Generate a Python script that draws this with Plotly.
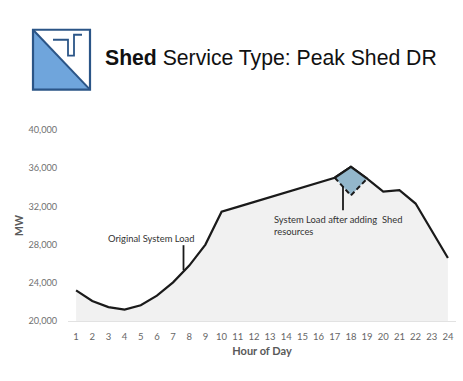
import plotly.graph_objects as go

W, H = 463, 381
L, R, T, B = 68, 456, 129.5, 321

hours = list(range(1, 25))
system_load = [23200, 22100, 21450, 21200, 21650, 22650, 24050, 25800, 28000, 31450,
               31950, 32450, 32950, 33450, 33950, 34450, 35000, 36150, 34900, 33550,
               33700, 32300, 29400, 26600]
shed_hours = [17, 18, 19]
shed_load = [35000, 33150, 34900]
tick_vals = [20000, 24000, 28000, 32000, 36000, 40000]
hour_labels = [str(h) for h in hours]
title_bold = "Shed"
title_rest = " Service Type: Peak Shed DR"
label_original = "Original System Load"
label_after = "System Load after adding  Shed<br>resources"

def px(x):
    return (x - L) / (R - L)

def py(y):
    return (B - y) / (B - T)

def pixel_shape(kind, x0, y0, x1, y1, **kw):
    return dict(type=kind, xref="paper", yref="paper", x0=px(x0), y0=py(y0), x1=px(x1), y1=py(y1), **kw)

def pixel_path(points, **kw):
    d = "M" + " L".join(f"{px(x)},{py(y)}" for x, y in points)
    return dict(type="path", xref="paper", yref="paper", path=d, **kw)

fig = go.Figure()
fig.add_trace(go.Scatter(x=hours, y=system_load, mode="lines", fill="tozeroy",
                         fillcolor="#f1f1f1", line=dict(color="#1a1a1a", width=2.2),
                         showlegend=False, hoverinfo="skip"))
fig.add_trace(go.Scatter(x=shed_hours + shed_hours[::-1],
                         y=shed_load + [system_load[h - 1] for h in shed_hours[::-1]],
                         mode="lines", fill="toself", fillcolor="#93b7cb",
                         line=dict(width=0), showlegend=False, hoverinfo="skip"))
fig.add_trace(go.Scatter(x=hours[16:19], y=system_load[16:19], mode="lines",
                         line=dict(color="#1a1a1a", width=2.2), showlegend=False, hoverinfo="skip"))
fig.add_trace(go.Scatter(x=shed_hours, y=shed_load, mode="lines",
                         line=dict(color="#1a1a1a", width=2, dash="5px,3px"),
                         showlegend=False, hoverinfo="skip"))

navy = "#2b5587"
shapes = [
    pixel_path([(33, 29), (33, 89), (90, 89)], line=dict(width=0), fillcolor="#6fa5dc"),
    pixel_shape("rect", 33, 29, 90, 89, line=dict(color=navy, width=2.2)),
    pixel_shape("line", 33, 29, 90, 89, line=dict(color=navy, width=2)),
    pixel_path([(53, 39), (68, 39), (68, 55), (74, 55), (74, 34), (82, 34)],
               line=dict(color=navy, width=1.8)),
    pixel_shape("line", 183.5, 245, 183.5, 270, line=dict(color="#1a1a1a", width=1.8)),
    pixel_shape("line", 343, 186, 343, 210, line=dict(color="#1a1a1a", width=1.8)),
]

annotations = [
    dict(xref="paper", yref="paper", x=px(103), y=py(57), xanchor="left", yanchor="middle",
         text=f"<b>{title_bold}</b>{title_rest}", showarrow=False,
         font=dict(family="Liberation Sans", size=21.2, color="#111111")),
    dict(xref="paper", yref="paper", x=px(105.5), y=py(238.5), xanchor="left", yanchor="middle",
         text=label_original, showarrow=False,
         font=dict(family="Lato", size=9.4, color="#333333")),
    dict(xref="paper", yref="paper", x=px(272), y=py(225), xanchor="left", yanchor="middle", align="left",
         text=label_after, showarrow=False,
         font=dict(family="Lato", size=9.4, color="#333333")),
]

fig.update_layout(
    width=W, height=H, paper_bgcolor="white", plot_bgcolor="white",
    margin=dict(l=L, r=W - R, t=T, b=H - B, autoexpand=False),
    shapes=shapes, annotations=annotations,
    xaxis=dict(range=[0.5, 24.5], tickmode="array", tickvals=hours, ticktext=hour_labels,
               showgrid=False, zeroline=False, showline=True, linecolor="#e2e2e2", linewidth=1,
               ticks="outside", ticklen=7, tickcolor="rgba(0,0,0,0)",
               tickfont=dict(family="Lato", size=9.5, color="#666666"),
               title=dict(text="<b>Hour of Day</b>", standoff=5,
                          font=dict(family="Lato", size=11, color="#595959"))),
    yaxis=dict(range=[20000, 40000], tickmode="array", tickvals=tick_vals, tickformat=",",
               showgrid=False, zeroline=False, showline=False,
               ticks="outside", ticklen=8, tickcolor="rgba(0,0,0,0)",
               tickfont=dict(family="Lato", size=9.2, color="#707070"),
               title=dict(text="<b>MW</b>", standoff=2,
                          font=dict(family="Lato", size=10.5, color="#595959"))),
)
fig.write_html("out.html", config=dict(displayModeBar=False),
               post_script="document.body.style.margin='0';document.body.style.overflow='hidden';")
